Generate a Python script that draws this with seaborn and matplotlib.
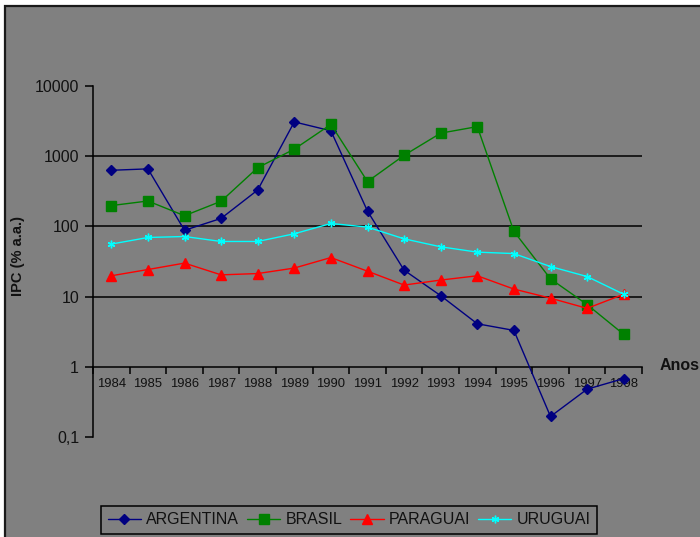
import pandas as pd
import numpy as np
import matplotlib
matplotlib.use('Agg')
import matplotlib.pyplot as plt
import matplotlib.patches as mpatches
from matplotlib.ticker import FixedLocator, NullLocator, FixedFormatter
import seaborn as sns

# ====================== DADOS ======================
anos = [1984, 1985, 1986, 1987, 1988, 1989, 1990, 1991,
        1992, 1993, 1994, 1995, 1996, 1997, 1998]
argentina = [630, 660, 88, 130, 330, 3080, 2300, 165,
             23.8, 10.3, 4.1, 3.3, 0.196, 0.48, 0.68]
brasil = [198, 230, 142, 228, 686, 1260, 2840, 435,
          1030, 2130, 2640, 85, 17.9, 7.7, 2.9]
paraguai = [19.8, 24.3, 30, 20.4, 21.3, 25.5, 36, 23,
            14.6, 17.2, 19.8, 12.8, 9.5, 6.8, 10.8]
uruguai = [56, 69.5, 71.8, 61, 61, 78.5, 110, 97.7,
           66.5, 51.2, 43, 41, 26.8, 19.3, 10.8]

paises = ['ARGENTINA', 'BRASIL', 'PARAGUAI', 'URUGUAI']
y_ticks = [0.1, 1, 10, 100, 1000, 10000]
y_labels = ['0,1', '1', '10', '100', '1000', '10000']
grid_levels = [10, 100, 1000]

cores = {'ARGENTINA': '#000080', 'BRASIL': '#008000',
         'PARAGUAI': '#ff0000', 'URUGUAI': '#00ffff'}
marcadores = {'ARGENTINA': 'D', 'BRASIL': 's',
              'PARAGUAI': '^', 'URUGUAI': (6, 2, 0)}
tamanhos = {'ARGENTINA': 5.5, 'BRASIL': 6.5, 'PARAGUAI': 7.5, 'URUGUAI': 5.5}

df = pd.DataFrame({'Ano': anos, 'ARGENTINA': argentina, 'BRASIL': brasil,
                   'PARAGUAI': paraguai, 'URUGUAI': uruguai})
df_long = df.melt(id_vars='Ano', var_name='Pais', value_name='IPC')

# ====================== FIGURA ======================
sns.set_style('white')
plt.rcParams['font.family'] = ['Liberation Sans', 'DejaVu Sans']
cinza = '#808080'

fig = plt.figure(figsize=(7.0, 5.37), dpi=100)
fig.patch.set_facecolor('white')
fundo = mpatches.Rectangle((5 / 700, -0.05), 1.1, 1 - 6 / 537 + 0.05,
                           transform=fig.transFigure, facecolor=cinza,
                           edgecolor='#1a1a1a', linewidth=1.6, zorder=0)
fig.add_artist(fundo)

ax = fig.add_axes([93 / 700, 1 - 437 / 537, 549 / 700, 351 / 537])
ax.set_facecolor(cinza)

for p in paises:
    sub = df_long[df_long['Pais'] == p]
    sns.lineplot(data=sub, x='Ano', y='IPC', color=cores[p], marker=marcadores[p],
                 markersize=tamanhos[p], markeredgecolor=cores[p],
                 markeredgewidth=1.0, linewidth=1.0, label=p, ax=ax, zorder=3)

ax.set_yscale('log')
ax.set_ylim(0.1, 10000)
ax.set_xlim(anos[0] - 0.5, anos[-1] + 0.5)

for g in grid_levels:
    ax.axhline(g, color='black', linewidth=1.1, zorder=1)

# eixo y
ax.yaxis.set_major_locator(FixedLocator(y_ticks))
ax.yaxis.set_major_formatter(FixedFormatter(y_labels))
ax.yaxis.set_minor_locator(NullLocator())
ax.tick_params(axis='y', which='major', direction='out', length=6, width=1.1,
               color='black', labelsize=11.5, labelcolor='#111111', pad=4, left=True)

# eixo x cruzando em 1
ax.spines['bottom'].set_position(('data', 1))
ax.spines['top'].set_visible(False)
ax.spines['right'].set_visible(False)
for s in ['bottom', 'left']:
    ax.spines[s].set_color('black')
    ax.spines[s].set_linewidth(1.1)
ax.xaxis.set_major_locator(FixedLocator(np.arange(anos[0] - 0.5, anos[-1] + 1, 1)))
ax.xaxis.set_major_formatter(FixedFormatter([]))
ax.xaxis.set_minor_locator(FixedLocator(anos))
ax.xaxis.set_minor_formatter(FixedFormatter([str(a) for a in anos]))
ax.tick_params(axis='x', which='major', direction='out', length=5, width=1.1,
               color='black', bottom=True)
ax.tick_params(axis='x', which='minor', length=0, labelsize=9.4,
               labelcolor='#111111', pad=8, bottom=True)
ax.set_xlabel('')
ax.set_ylabel('')

fig.text(18 / 700, 1 - 256 / 537, 'IPC (% a.a.)', rotation=90, fontsize=10.5,
         fontweight='bold', ha='center', va='center', color='#111111')
fig.text(660 / 700, 1 - 365 / 537, 'Anos', fontsize=11.5, fontweight='bold',
         ha='left', va='center', color='#111111')

# legenda
handles, labels = ax.get_legend_handles_labels()
ax.legend_.remove()
leg = fig.legend(handles, labels, loc='center', ncol=4,
                 bbox_to_anchor=(349 / 700, 1 - 520 / 537),
                 bbox_transform=fig.transFigure, frameon=True, fancybox=False,
                 facecolor=cinza, edgecolor='black', fontsize=11.5,
                 handlelength=2.1, handletextpad=0.3, columnspacing=0.5,
                 borderpad=0.4, borderaxespad=0)
leg.get_frame().set_linewidth(1.1)
leg.get_frame().set_alpha(1)
for t in leg.get_texts():
    t.set_color('#111111')

fig.savefig('out.png', dpi=100, facecolor='white')
